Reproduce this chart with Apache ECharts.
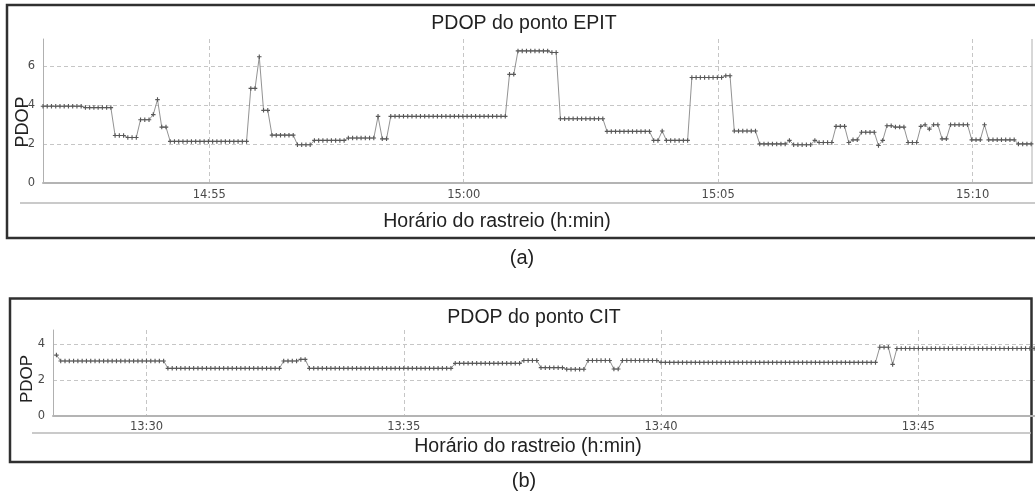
<!DOCTYPE html>
<html>
<head>
<meta charset="utf-8">
<script src="https://cdn.jsdelivr.net/npm/echarts@6/dist/echarts.min.js"></script>
<style>
  html, body { margin: 0; padding: 0; background: #ffffff; }
  #chart { width: 1035px; height: 493px; }
</style>
</head>
<body>
<div id="chart"></div>
<script>
// Receiver samples every 5 seconds
const sampleSeconds = 5;

// Station EPIT
const epitStart = '14:51:44';
const epitPdop = [
  3.93, 3.93, 3.93, 3.93, 3.93, 3.93, 3.93, 3.93, 3.93, 3.93,
  3.86, 3.86, 3.86, 3.86, 3.86, 3.86, 3.86, 2.43, 2.43, 2.43,
  2.33, 2.33, 2.33, 3.24, 3.24, 3.24, 3.50, 4.27, 2.86, 2.86,
  2.13, 2.13, 2.13, 2.13, 2.13, 2.13, 2.13, 2.13, 2.13, 2.13,
  2.13, 2.13, 2.13, 2.13, 2.13, 2.13, 2.13, 2.13, 2.13, 4.84,
  4.84, 6.46, 3.72, 3.72, 2.45, 2.45, 2.45, 2.45, 2.45, 2.45,
  1.96, 1.96, 1.96, 1.96, 2.18, 2.18, 2.18, 2.18, 2.18, 2.18,
  2.18, 2.18, 2.30, 2.30, 2.30, 2.30, 2.30, 2.30, 2.30, 3.41,
  2.26, 2.26, 3.41, 3.41, 3.41, 3.41, 3.41, 3.41, 3.41, 3.41,
  3.41, 3.41, 3.41, 3.41, 3.41, 3.41, 3.41, 3.41, 3.41, 3.41,
  3.41, 3.41, 3.41, 3.41, 3.41, 3.41, 3.41, 3.41, 3.41, 3.41,
  5.56, 5.56, 6.76, 6.76, 6.76, 6.76, 6.76, 6.76, 6.76, 6.76,
  6.68, 6.68, 3.29, 3.29, 3.29, 3.29, 3.29, 3.29, 3.29, 3.29,
  3.29, 3.29, 3.29, 2.64, 2.64, 2.64, 2.64, 2.64, 2.64, 2.64,
  2.64, 2.64, 2.64, 2.64, 2.18, 2.18, 2.66, 2.18, 2.18, 2.18,
  2.18, 2.18, 2.18, 5.40, 5.40, 5.40, 5.40, 5.40, 5.40, 5.40,
  5.40, 5.49, 5.49, 2.66, 2.66, 2.66, 2.66, 2.66, 2.66, 2.00,
  2.00, 2.00, 2.00, 2.00, 2.00, 2.00, 2.18, 1.96, 1.96, 1.96,
  1.96, 1.96, 2.18, 2.07, 2.07, 2.07, 2.07, 2.90, 2.90, 2.90,
  2.07, 2.21, 2.21, 2.60, 2.60, 2.60, 2.60, 1.92, 2.18, 2.93,
  2.93, 2.86, 2.86, 2.86, 2.07, 2.07, 2.07, 2.90, 2.98, 2.76,
  2.98, 2.98, 2.26, 2.26, 2.98, 2.98, 2.98, 2.98, 2.98, 2.21,
  2.21, 2.21, 2.98, 2.21, 2.21, 2.21, 2.21, 2.21, 2.21, 2.21,
  2.00, 2.00, 2.00, 2.00
];
const epitTicks = ['14:55', '15:00', '15:05', '15:10'];
const epitYTicks = [0, 2, 4, 6];

// Station CIT
const citStart = '13:28:15';
const citPdop = [
  3.40, 3.07, 3.07, 3.07, 3.07, 3.07, 3.07, 3.07, 3.07, 3.07,
  3.07, 3.07, 3.07, 3.07, 3.07, 3.07, 3.07, 3.07, 3.07, 3.07,
  3.07, 3.07, 3.07, 3.07, 3.07, 3.07, 2.66, 2.66, 2.66, 2.66,
  2.66, 2.66, 2.66, 2.66, 2.66, 2.66, 2.66, 2.66, 2.66, 2.66,
  2.66, 2.66, 2.66, 2.66, 2.66, 2.66, 2.66, 2.66, 2.66, 2.66,
  2.66, 2.66, 2.66, 3.07, 3.07, 3.07, 3.07, 3.16, 3.16, 2.66,
  2.66, 2.66, 2.66, 2.66, 2.66, 2.66, 2.66, 2.66, 2.66, 2.66,
  2.66, 2.66, 2.66, 2.66, 2.66, 2.66, 2.66, 2.66, 2.66, 2.66,
  2.66, 2.66, 2.66, 2.66, 2.66, 2.66, 2.66, 2.66, 2.66, 2.66,
  2.66, 2.66, 2.66, 2.94, 2.94, 2.94, 2.94, 2.94, 2.94, 2.94,
  2.94, 2.94, 2.94, 2.94, 2.94, 2.94, 2.94, 2.94, 2.94, 3.10,
  3.10, 3.10, 3.10, 2.70, 2.70, 2.70, 2.70, 2.70, 2.70, 2.61,
  2.61, 2.61, 2.61, 2.61, 3.10, 3.10, 3.10, 3.10, 3.10, 3.10,
  2.62, 2.62, 3.10, 3.10, 3.10, 3.10, 3.10, 3.10, 3.10, 3.10,
  3.10, 2.99, 2.99, 2.99, 2.99, 2.99, 2.99, 2.99, 2.99, 2.99,
  2.99, 2.99, 2.99, 2.99, 2.99, 2.99, 2.99, 2.99, 2.99, 2.99,
  2.99, 2.99, 2.99, 2.99, 2.99, 2.99, 2.99, 2.99, 2.99, 2.99,
  2.99, 2.99, 2.99, 2.99, 2.99, 2.99, 2.99, 2.99, 2.99, 2.99,
  2.99, 2.99, 2.99, 2.99, 2.99, 2.99, 2.99, 2.99, 2.99, 2.99,
  2.99, 2.99, 3.84, 3.84, 3.84, 2.88, 3.77, 3.77, 3.77, 3.77,
  3.77, 3.77, 3.77, 3.77, 3.77, 3.77, 3.77, 3.77, 3.77, 3.77,
  3.77, 3.77, 3.77, 3.77, 3.77, 3.77, 3.77, 3.77, 3.77, 3.77,
  3.77, 3.77, 3.77, 3.77, 3.77, 3.77, 3.77, 3.77, 3.77
];
const citTicks = ['13:30', '13:35', '13:40', '13:45'];
const citYTicks = [0, 2, 4];

const titleEpit = 'PDOP do ponto EPIT';
const titleCit = 'PDOP do ponto CIT';
const xName = 'Horário do rastreio (h:min)';
const yName = 'PDOP';

// ---- helpers ----
function toSec(hms) {
  const p = hms.split(':').map(Number);
  return p[0] * 3600 + p[1] * 60 + (p[2] || 0);
}
function hhmm(sec) {
  const h = Math.floor(sec / 3600);
  const m = Math.round((sec - h * 3600) / 60);
  return h + ':' + String(m).padStart(2, '0');
}
function pairs(start, values) {
  const t0 = toSec(start);
  return values.map((v, i) => [t0 + i * sampleSeconds, v]);
}

const tickFont = { fontFamily: 'DejaVu Sans', fontSize: 11.5, color: '#4a4a4a' };
const gridDash = { color: '#c6c6c6', width: 1, type: [4, 3] };
const plusSymbol = 'path://M1.5,0h1v1.5h1.5v1h-1.5v1.5h-1v-1.5h-1.5v-1h1.5z';

function xAxisFor(gridIndex, ticks, min, max, margin) {
  const vals = ticks.map(toSec);
  return {
    type: 'value', gridIndex, min, max,
    axisLine: { show: true, lineStyle: { color: '#b4b4b4', width: 2 } },
    axisTick: { show: false, customValues: vals },
    axisLabel: Object.assign({ customValues: vals, margin, formatter: v => hhmm(v) }, tickFont),
    splitLine: { show: true, lineStyle: gridDash }
  };
}
function yAxisFor(gridIndex, ticks, max) {
  return {
    type: 'value', gridIndex, min: 0, max,
    axisLine: { show: true, lineStyle: { color: '#b0b0b0', width: 1 } },
    axisTick: { show: false, customValues: ticks },
    axisLabel: Object.assign({ customValues: ticks, margin: 8 }, tickFont),
    splitLine: { show: true, lineStyle: gridDash }
  };
}
function lineSeries(idx, data) {
  return {
    type: 'line', xAxisIndex: idx, yAxisIndex: idx, data,
    clip: false, showSymbol: true, symbol: plusSymbol, symbolSize: 4.5,
    itemStyle: { color: '#585858' },
    lineStyle: { color: '#939393', width: 1 },
    emphasis: { disabled: true }, animation: false
  };
}
function label(text, x, y, size, rotation) {
  return {
    type: 'text', x, y, rotation: rotation || 0, silent: true,
    style: { text, fill: '#222222', font: size + 'px "Liberation Sans", Arial, sans-serif', align: 'center', verticalAlign: 'middle' }
  };
}

const epitMin = toSec(epitStart);
const citMin = toSec(citStart) - 4;

const chart = echarts.init(document.getElementById('chart'), null, { renderer: 'canvas' });
chart.setOption({
  backgroundColor: '#ffffff',
  animation: false,
  grid: [
    { left: 43, top: 39, width: 989, height: 144 },
    { left: 53, top: 330, width: 982, height: 86 }
  ],
  xAxis: [
    xAxisFor(0, epitTicks, epitMin, epitMin + 1166, 6),
    xAxisFor(1, citTicks, citMin, citMin + 1145, 5)
  ],
  yAxis: [
    yAxisFor(0, epitYTicks, 7.37),
    yAxisFor(1, citYTicks, 4.8)
  ],
  series: [
    lineSeries(0, pairs(epitStart, epitPdop)),
    lineSeries(1, pairs(citStart, citPdop))
  ],
  graphic: [
    // panel (a)
    { type: 'rect', silent: true, shape: { x: 7, y: 5, width: 1040, height: 233 },
      style: { fill: 'none', stroke: '#303030', lineWidth: 2.5 } },
    { type: 'line', silent: true, shape: { x1: 20, y1: 203, x2: 1035, y2: 203 },
      style: { stroke: '#b8b8b8', lineWidth: 1.5 } },
    { type: 'line', silent: true, shape: { x1: 1032, y1: 39, x2: 1032, y2: 183 },
      style: { stroke: '#b0b0b0', lineWidth: 1 } },
    label(titleEpit, 524, 24, 19.5),
    label(xName, 497, 222, 19.5),
    label(yName, 23, 122, 18, Math.PI / 2),
    label('(a)', 522, 258, 20),
    // panel (b)
    { type: 'rect', silent: true, shape: { x: 10, y: 298.5, width: 1021.5, height: 163.5 },
      style: { fill: 'none', stroke: '#303030', lineWidth: 2.5 } },
    { type: 'line', silent: true, shape: { x1: 32, y1: 433, x2: 1031, y2: 433 },
      style: { stroke: '#b8b8b8', lineWidth: 1.5 } },
    label(titleCit, 534, 318, 19.5),
    label(xName, 528, 447, 19.5),
    label(yName, 27, 379, 17, Math.PI / 2),
    label('(b)', 524, 481, 20)
  ]
});
</script>
</body>
</html>
